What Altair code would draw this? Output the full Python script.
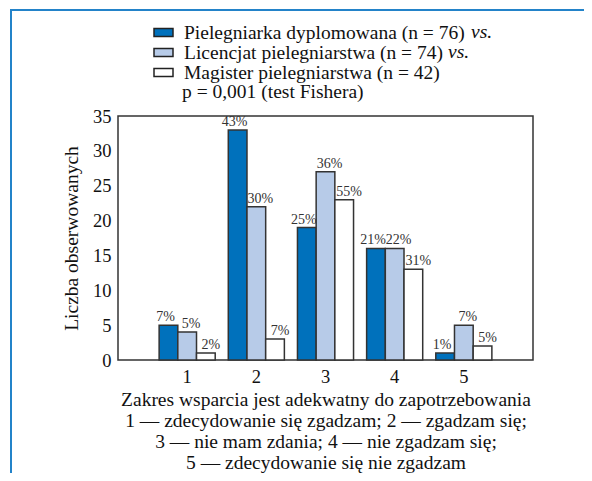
import altair as alt
import pandas as pd

categories = ["1", "2", "3", "4", "5"]
series = [
    "Pielegniarka dyplomowana (n = 76)",
    "Licencjat pielegniarstwa (n = 74)",
    "Magister pielegniarstwa (n = 42)",
]
colors = ["#0071BC", "#B7CBE8", "#FFFFFF"]

dyplom = [5, 33, 19, 16, 1]
licencjat = [4, 22, 27, 16, 5]
magister = [1, 3, 23, 13, 2]

dyplom_pct = ["7%", "43%", "25%", "21%", "1%"]
licencjat_pct = ["5%", "30%", "36%", "22%", "7%"]
magister_pct = ["2%", "7%", "55%", "31%", "5%"]

y_ticks = [0, 5, 10, 15, 20, 25, 30, 35]

x_title = [
    "Zakres wsparcia jest adekwatny do zapotrzebowania",
    "1 \u2014 zdecydowanie si\u0119 zgadzam; 2 \u2014 zgadzam si\u0119;",
    "3 \u2014 nie mam zdania; 4 \u2014 nie zgadzam si\u0119;",
    "5 \u2014 zdecydowanie si\u0119 nie zgadzam",
]
y_title = "Liczba obserwowanych"
p_text = "p = 0,001 (test Fishera)"

rows = []
for s, vals, pcts in zip(series, [dyplom, licencjat, magister],
                         [dyplom_pct, licencjat_pct, magister_pct]):
    for c, v, p in zip(categories, vals, pcts):
        rows.append({"cat": c, "series": s, "value": v, "pct": p})
df = pd.DataFrame(rows)

FONT = "Liberation Serif"
BIG = 19.5
W, H = 415, 244

x_enc = alt.X(
    "cat:N",
    sort=categories,
    scale=alt.Scale(paddingInner=0, paddingOuter=0.5),
    axis=alt.Axis(
        title=x_title,
        labelAngle=0,
        ticks=False,
        domain=False,
        labelPadding=7,
        labelFontSize=18.5,
        titleFontSize=BIG,
        titleLineHeight=21,
        titlePadding=5,
        labelFont=FONT,
        titleFont=FONT,
    ),
)
xoff_enc = alt.XOffset(
    "series:N",
    sort=series,
    scale=alt.Scale(domain=series, paddingInner=0, paddingOuter=0.35),
)
y_enc = alt.Y(
    "value:Q",
    scale=alt.Scale(domain=[0, 35], nice=False),
    axis=alt.Axis(
        title=y_title,
        values=y_ticks,
        grid=False,
        ticks=False,
        domain=False,
        labelOverlap=False,
        labelPadding=7,
        labelFontSize=18.5,
        titleFontSize=BIG,
        titlePadding=11,
        labelFont=FONT,
        titleFont=FONT,
    ),
)

base = alt.Chart(df).encode(x=x_enc, xOffset=xoff_enc, y=y_enc)

bars = base.mark_bar(stroke="#333333", strokeWidth=1.5).encode(
    fill=alt.Fill(
        "series:N",
        sort=series,
        scale=alt.Scale(domain=series, range=colors),
        legend=alt.Legend(
            title=None,
            orient="none",
            legendX=35,
            legendY=-94,
            symbolType="M-1,-0.42L1,-0.42L1,0.42L-1,0.42Z",
            symbolSize=361,
            symbolStrokeColor="#222222",
            symbolStrokeWidth=1.5,
            symbolOpacity=1,
            labelFontSize=BIG,
            labelFont=FONT,
            labelColor="#111111",
            labelOffset=10,
            rowPadding=0,
            padding=0,
            labelLimit=400,
        ),
    ),
)


def pct_layer(name, dx):
    return base.transform_filter(
        alt.datum.series == name
    ).mark_text(
        baseline="bottom", dy=-1, dx=dx, fontSize=14, font=FONT, color="#333333"
    ).encode(text="pct:N")


labels = [pct_layer(series[0], -3), pct_layer(series[1], 4), pct_layer(series[2], 5)]

one = pd.DataFrame({"k": [0]})
p_label = alt.Chart(one).mark_text(
    align="left", baseline="middle", fontSize=BIG, font=FONT, color="#111111"
).encode(x=alt.value(64), y=alt.value(-24), text=alt.value(p_text))

vs1 = alt.Chart(one).mark_text(
    align="left", baseline="middle", fontSize=BIG, font=FONT,
    fontStyle="italic", color="#111111"
).encode(x=alt.value(353), y=alt.value(-84), text=alt.value("vs."))
vs2 = alt.Chart(one).mark_text(
    align="left", baseline="middle", fontSize=BIG, font=FONT,
    fontStyle="italic", color="#111111"
).encode(x=alt.value(330), y=alt.value(-64), text=alt.value("vs."))

frame_left = alt.Chart(one).mark_rule(color="#2383C9", strokeWidth=2).encode(
    x=alt.value(-107), y=alt.value(-106), y2=alt.value(380)
)
frame_top = alt.Chart(one).mark_rule(color="#2383C9", strokeWidth=2).encode(
    x=alt.value(-108), x2=alt.value(480), y=alt.value(-106)
)

chart = alt.layer(
    bars, *labels, p_label, vs1, vs2, frame_left, frame_top
).properties(
    width=W,
    height=H,
    autosize=alt.AutoSizeParams(type="none"),
    padding={"left": 110, "top": 108, "right": 51, "bottom": 113},
).configure(
    font=FONT,
).configure_axis(
    labelColor="#111111",
    titleColor="#111111",
    titleFontWeight="normal",
).configure_view(
    stroke="#333333",
    strokeWidth=1.5,
)

chart.save("out.html", embed_options={"renderer": "svg", "actions": False})
